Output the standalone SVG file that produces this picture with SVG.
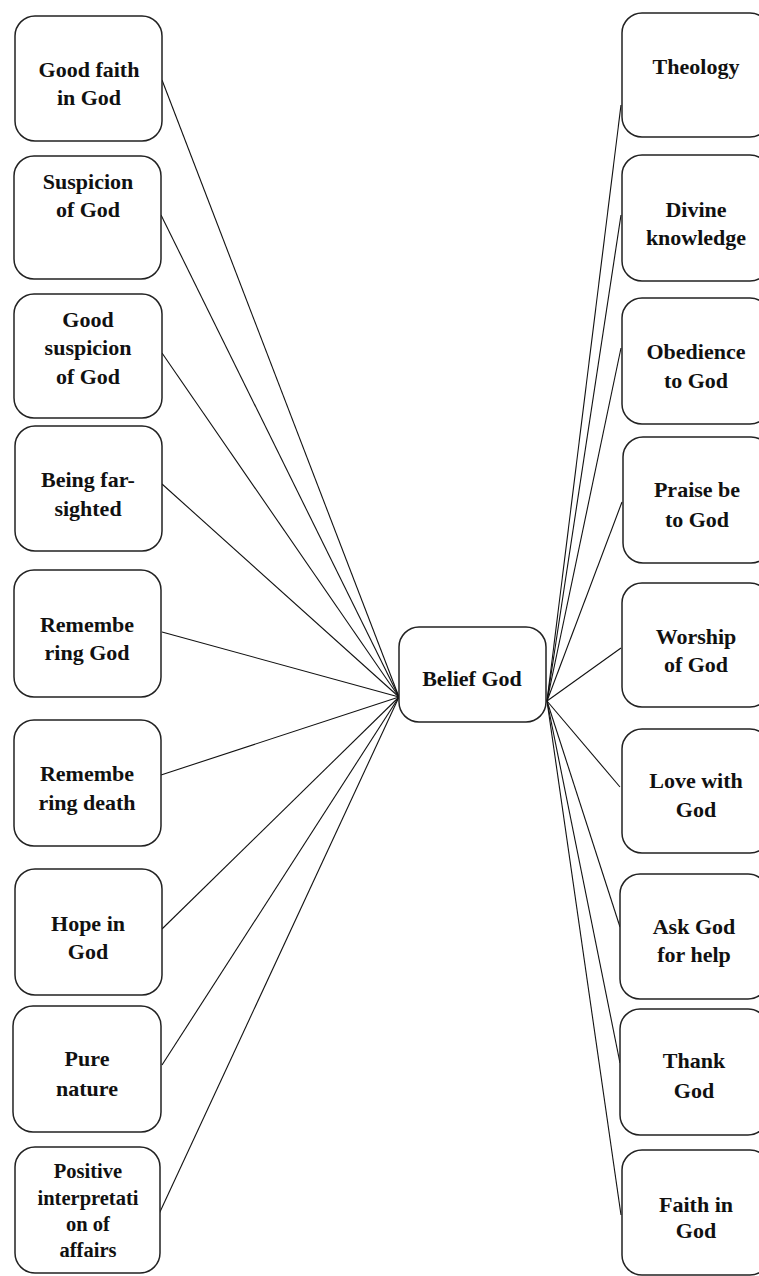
<svg xmlns="http://www.w3.org/2000/svg" width="759" height="1276" viewBox="0 0 759 1276">
<style>
.box{fill:#fff;stroke:#222;stroke-width:1.5}
.t{font-family:"Liberation Serif","Times New Roman",serif;font-weight:bold;font-size:22px;fill:#111;text-anchor:middle}
.s{font-size:20.5px}
.c{stroke:#111;stroke-width:1.1;fill:none}
</style>
<rect width="759" height="1276" fill="#fff"/>
<g id="connectors">
<line class="c" x1="162" y1="80" x2="399" y2="697"/>
<line class="c" x1="161" y1="215" x2="399" y2="697"/>
<line class="c" x1="162" y1="353" x2="399" y2="697"/>
<line class="c" x1="162" y1="484" x2="399" y2="697"/>
<line class="c" x1="162" y1="632" x2="399" y2="697"/>
<line class="c" x1="161" y1="775" x2="399" y2="697"/>
<line class="c" x1="162" y1="929" x2="399" y2="697"/>
<line class="c" x1="162" y1="1065" x2="399" y2="697"/>
<line class="c" x1="159" y1="1214" x2="399" y2="697"/>
<line class="c" x1="547" y1="701" x2="621" y2="105"/>
<line class="c" x1="547" y1="701" x2="621" y2="215"/>
<line class="c" x1="547" y1="701" x2="621" y2="348"/>
<line class="c" x1="547" y1="701" x2="622" y2="502"/>
<line class="c" x1="547" y1="701" x2="621" y2="648"/>
<line class="c" x1="547" y1="701" x2="620" y2="787"/>
<line class="c" x1="547" y1="701" x2="620" y2="927"/>
<line class="c" x1="547" y1="701" x2="620" y2="1063"/>
<line class="c" x1="547" y1="701" x2="621" y2="1215"/>
</g>
<g id="center">
<rect class="box" x="399" y="627" width="147" height="95" rx="20"/>
<text class="t" x="472" y="686">Belief God</text>
</g>
<g id="l1"><rect class="box" x="15" y="16" width="147" height="125" rx="20"/>
<text class="t" x="89" y="77">Good faith</text><text class="t" x="89" y="105">in God</text></g>
<g id="l2"><rect class="box" x="14" y="156" width="147" height="123" rx="20"/>
<text class="t" x="88" y="189">Suspicion</text><text class="t" x="88" y="217">of God</text></g>
<g id="l3"><rect class="box" x="14" y="294" width="148" height="124" rx="20"/>
<text class="t" x="88" y="327">Good</text><text class="t" x="88" y="355">suspicion</text><text class="t" x="88" y="384">of God</text></g>
<g id="l4"><rect class="box" x="15" y="426" width="147" height="125" rx="20"/>
<text class="t" x="88" y="487">Being far-</text><text class="t" x="88" y="516">sighted</text></g>
<g id="l5"><rect class="box" x="14" y="570" width="147" height="127" rx="20"/>
<text class="t" x="87" y="632">Remembe</text><text class="t" x="87" y="660">ring God</text></g>
<g id="l6"><rect class="box" x="14" y="720" width="147" height="126" rx="20"/>
<text class="t" x="87" y="781">Remembe</text><text class="t" x="87" y="810">ring death</text></g>
<g id="l7"><rect class="box" x="15" y="869" width="147" height="126" rx="20"/>
<text class="t" x="88" y="931">Hope in</text><text class="t" x="88" y="959">God</text></g>
<g id="l8"><rect class="box" x="13" y="1006" width="148" height="126" rx="20"/>
<text class="t" x="87" y="1066">Pure</text><text class="t" x="87" y="1096">nature</text></g>
<g id="l9"><rect class="box" x="15" y="1147" width="145" height="126" rx="20"/>
<text class="t s" x="88" y="1178">Positive</text><text class="t s" x="88" y="1205">interpretati</text><text class="t s" x="88" y="1231">on of</text><text class="t s" x="88" y="1257">affairs</text></g>
<g id="r1"><rect class="box" x="622" y="13" width="148" height="124" rx="20"/>
<text class="t" x="696" y="74">Theology</text></g>
<g id="r2"><rect class="box" x="622" y="155" width="148" height="126" rx="20"/>
<text class="t" x="696" y="217">Divine</text><text class="t" x="696" y="245">knowledge</text></g>
<g id="r3"><rect class="box" x="622" y="298" width="148" height="126" rx="20"/>
<text class="t" x="696" y="359">Obedience</text><text class="t" x="696" y="388">to God</text></g>
<g id="r4"><rect class="box" x="623" y="437" width="148" height="126" rx="20"/>
<text class="t" x="697" y="497">Praise be</text><text class="t" x="697" y="527">to God</text></g>
<g id="r5"><rect class="box" x="622" y="583" width="148" height="124" rx="20"/>
<text class="t" x="696" y="644">Worship</text><text class="t" x="696" y="672">of God</text></g>
<g id="r6"><rect class="box" x="622" y="729" width="148" height="124" rx="20"/>
<text class="t" x="696" y="788">Love with</text><text class="t" x="696" y="817">God</text></g>
<g id="r7"><rect class="box" x="620" y="874" width="148" height="125" rx="20"/>
<text class="t" x="694" y="934">Ask God</text><text class="t" x="694" y="962">for help</text></g>
<g id="r8"><rect class="box" x="620" y="1009" width="148" height="126" rx="20"/>
<text class="t" x="694" y="1068">Thank</text><text class="t" x="694" y="1098">God</text></g>
<g id="r9"><rect class="box" x="622" y="1150" width="148" height="125" rx="20"/>
<text class="t" x="696" y="1212">Faith in</text><text class="t" x="696" y="1238">God</text></g>
</svg>
